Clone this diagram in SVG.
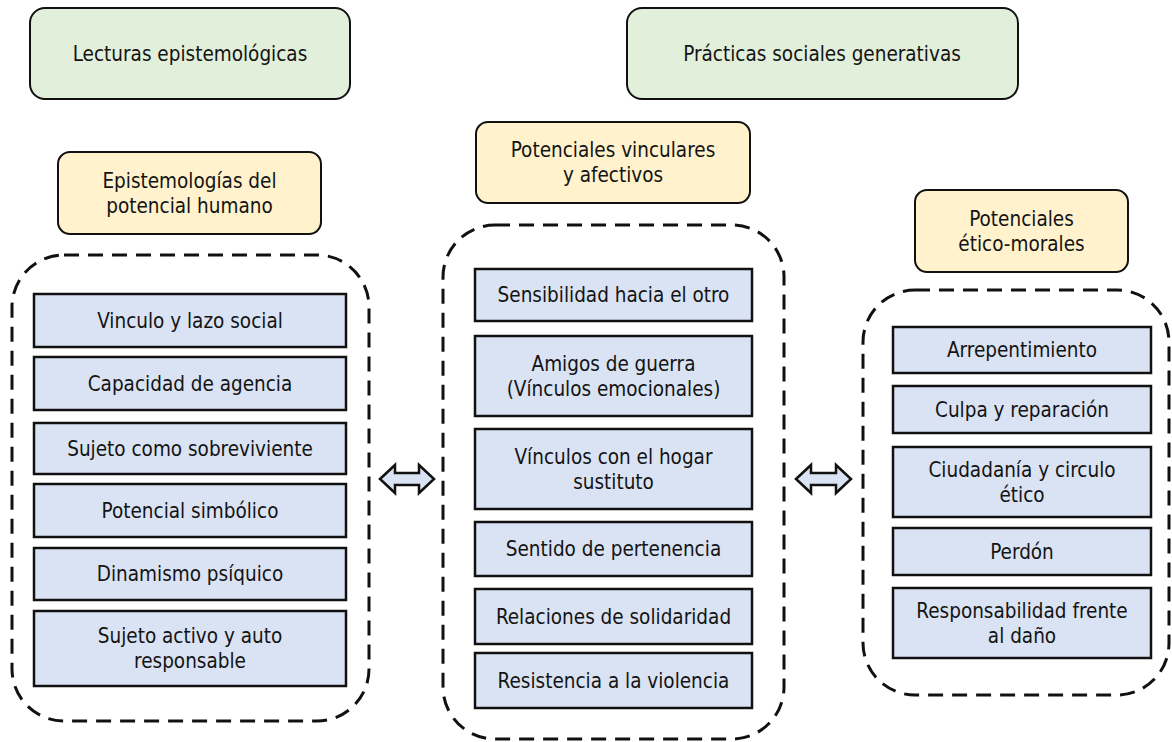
<svg xmlns="http://www.w3.org/2000/svg" width="1172" height="742" viewBox="0 0 1172 742">
<style>
text{font-family:"DejaVu Sans Condensed","DejaVu Sans",sans-serif;font-stretch:condensed;font-size:20.5px;fill:#141414;text-anchor:middle}
.green{fill:#e2efda;stroke:#111;stroke-width:2}
.yellow{fill:#fff2cc;stroke:#111;stroke-width:2}
.item{fill:#dae3f3;stroke:#111;stroke-width:2.5}
.dash{fill:none;stroke:#111;stroke-width:3;stroke-dasharray:15 9}
.arrow{fill:#dae3f3;stroke:#111;stroke-width:2.5;stroke-linejoin:miter}
</style>
<rect width="1172" height="742" fill="#fff"/>
<g id="header-left"><rect class="green" x="30" y="8" width="320" height="91" rx="15"/><text x="190" y="61">Lecturas epistemológicas</text></g>
<g id="header-right"><rect class="green" x="627" y="8" width="391" height="91" rx="15"/><text x="822" y="61">Prácticas sociales generativas</text></g>

<g id="cat-epist"><rect class="yellow" x="58" y="152" width="263" height="82" rx="12"/><text x="189.5" y="187.5">Epistemologías del</text><text x="189.5" y="212.5">potencial humano</text></g>
<g id="cat-vinc"><rect class="yellow" x="476" y="122" width="274" height="81" rx="12"/><text x="613" y="157">Potenciales vinculares</text><text x="613" y="182">y afectivos</text></g>
<g id="cat-etico"><rect class="yellow" x="915" y="190" width="213" height="82" rx="12"/><text x="1021.5" y="225.5">Potenciales</text><text x="1021.5" y="250.5">ético-morales</text></g>

<g id="group-left"><rect class="dash" x="12" y="255" width="357" height="466" rx="52"/></g>
<g id="group-mid"><rect class="dash" x="443" y="225" width="341" height="514" rx="52"/></g>
<g id="group-right"><rect class="dash" x="863" y="290" width="306" height="405" rx="52"/></g>

<g id="l1"><rect class="item" x="34" y="294" width="312" height="53"/><text x="190" y="327.5">Vinculo y lazo social</text></g>
<g id="l2"><rect class="item" x="34" y="357" width="312" height="53"/><text x="190" y="390.5">Capacidad de agencia</text></g>
<g id="l3"><rect class="item" x="34" y="423" width="312" height="51"/><text x="190" y="455.5">Sujeto como sobreviviente</text></g>
<g id="l4"><rect class="item" x="34" y="484" width="312" height="53"/><text x="190" y="517.5">Potencial simbólico</text></g>
<g id="l5"><rect class="item" x="34" y="548" width="312" height="52"/><text x="190" y="581">Dinamismo psíquico</text></g>
<g id="l6"><rect class="item" x="34" y="611" width="312" height="75"/><text x="190" y="643">Sujeto activo y auto</text><text x="190" y="668">responsable</text></g>

<g id="m1"><rect class="item" x="475" y="269" width="277" height="52"/><text x="613.5" y="302">Sensibilidad hacia el otro</text></g>
<g id="m2"><rect class="item" x="475" y="336" width="277" height="80"/><text x="613.5" y="370.5">Amigos de guerra</text><text x="613.5" y="395.5">(Vínculos emocionales)</text></g>
<g id="m3"><rect class="item" x="475" y="429" width="277" height="80"/><text x="613.5" y="463.5">Vínculos con el hogar</text><text x="613.5" y="488.5">sustituto</text></g>
<g id="m4"><rect class="item" x="475" y="522" width="277" height="54"/><text x="613.5" y="556">Sentido de pertenencia</text></g>
<g id="m5"><rect class="item" x="475" y="589" width="277" height="55"/><text x="613.5" y="623.5">Relaciones de solidaridad</text></g>
<g id="m6"><rect class="item" x="475" y="653" width="277" height="55"/><text x="613.5" y="687.5">Resistencia a la violencia</text></g>

<g id="r1"><rect class="item" x="893" y="327" width="258" height="46"/><text x="1022" y="357">Arrepentimiento</text></g>
<g id="r2"><rect class="item" x="893" y="386" width="258" height="47"/><text x="1022" y="416.5">Culpa y reparación</text></g>
<g id="r3"><rect class="item" x="893" y="447" width="258" height="70"/><text x="1022" y="476.5">Ciudadanía y circulo</text><text x="1022" y="501.5">ético</text></g>
<g id="r4"><rect class="item" x="893" y="528" width="258" height="47"/><text x="1022" y="558.5">Perdón</text></g>
<g id="r5"><rect class="item" x="893" y="588" width="258" height="70"/><text x="1022" y="617.5">Responsabilidad frente</text><text x="1022" y="642.5">al daño</text></g>

<g id="connectors">
<polygon class="arrow" points="380,479 395,465 395,473 419,473 419,465 434,479 419,493 419,485 395,485 395,493"/>
<polygon class="arrow" points="796,479 811,465 811,473 836,473 836,465 851,479 836,493 836,485 811,485 811,493"/>
</g>
</svg>
